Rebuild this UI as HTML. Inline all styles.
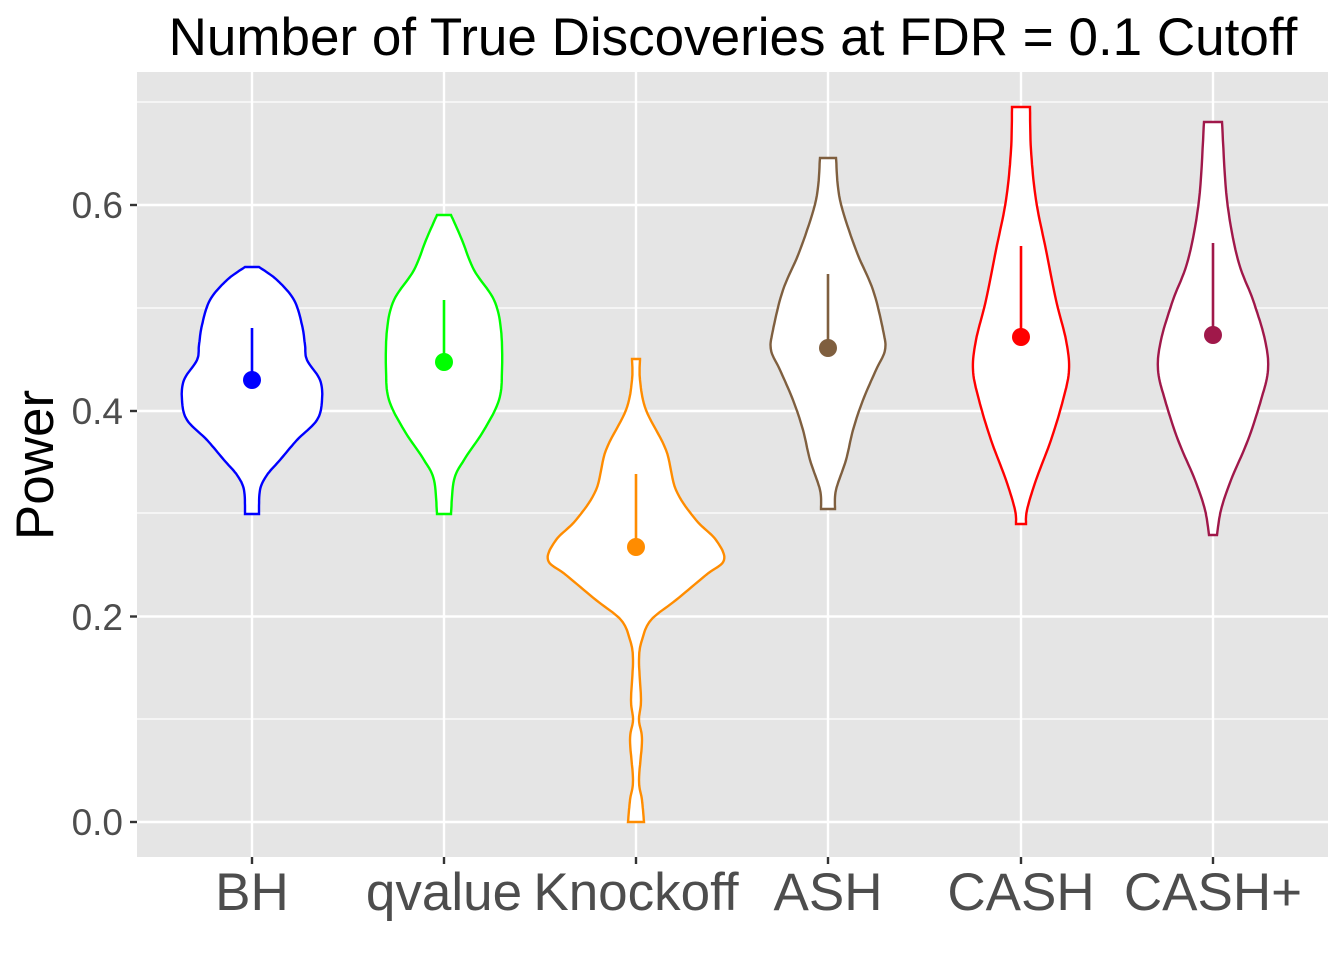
<!DOCTYPE html>
<html><head><meta charset="utf-8"><style>
html,body{margin:0;padding:0;background:#fff;}
svg{display:block;font-family:"Liberation Sans",Arial,sans-serif;}
</style></head><body>
<svg id="s" width="1344" height="960" viewBox="0 0 1344 960" xmlns="http://www.w3.org/2000/svg">
<rect x="137" y="72" width="1191" height="785" fill="#e5e5e5"/>
<g stroke="#fff" stroke-width="1.2">
<line x1="137" x2="1328" y1="719" y2="719"/><line x1="137" x2="1328" y1="513" y2="513"/>
<line x1="137" x2="1328" y1="308" y2="308"/><line x1="137" x2="1328" y1="102" y2="102"/>
</g>
<g stroke="#fff" stroke-width="2.4">
<line x1="137" x2="1328" y1="822" y2="822"/><line x1="137" x2="1328" y1="616.5" y2="616.5"/>
<line x1="137" x2="1328" y1="411" y2="411"/><line x1="137" x2="1328" y1="205" y2="205"/>
<line x1="252" x2="252" y1="72" y2="857"/><line x1="444" x2="444" y1="72" y2="857"/>
<line x1="636" x2="636" y1="72" y2="857"/><line x1="828" x2="828" y1="72" y2="857"/>
<line x1="1021" x2="1021" y1="72" y2="857"/><line x1="1213" x2="1213" y1="72" y2="857"/>
</g>
<g id="v"></g>
<g stroke="#333" stroke-width="2.4">
<line x1="130" x2="137" y1="822" y2="822"/><line x1="130" x2="137" y1="616.5" y2="616.5"/>
<line x1="130" x2="137" y1="411" y2="411"/><line x1="130" x2="137" y1="205" y2="205"/>
<line x1="252" x2="252" y1="857" y2="864"/><line x1="444" x2="444" y1="857" y2="864"/>
<line x1="636" x2="636" y1="857" y2="864"/><line x1="828" x2="828" y1="857" y2="864"/>
<line x1="1021" x2="1021" y1="857" y2="864"/><line x1="1213" x2="1213" y1="857" y2="864"/>
</g>
<g fill="#4d4d4d" font-size="37" text-anchor="end">
<text x="123" y="835">0.0</text><text x="123" y="630">0.2</text>
<text x="123" y="424">0.4</text><text x="123" y="218">0.6</text>
</g>
<g fill="#4d4d4d" font-size="53" text-anchor="middle">
<text x="252" y="910">BH</text><text x="444" y="910">qvalue</text><text x="636" y="910">Knockoff</text>
<text x="828" y="910">ASH</text><text x="1021" y="910">CASH</text><text x="1213" y="910">CASH+</text>
</g>
<text x="733" y="55" font-size="53" text-anchor="middle" fill="#000">Number of True Discoveries at FDR = 0.1 Cutoff</text>
<text transform="translate(53,465) rotate(-90)" font-size="53" text-anchor="middle" fill="#000">Power</text>
</svg>
<script>
var V=[
[252,"#0000ff",[[267,7],[280,25],[300,42],[325,50],[345,53],[360,55],[380,68],[400,70],[420,65],[440,45],[460,28],[475,15],[490,8],[514,7]],380,328],
[444,"#00ff00",[[215,7],[240,18],[270,30],[300,50],[330,57],[370,58],[400,55],[430,40],[460,20],[480,10],[514,7]],362,300],
[636,"#ff8c00",[[359,4],[380,4],[410,10],[450,30],[490,40],[520,60],[540,80],[560,88],[575,70],[600,40],[620,15],[640,6],[660,3],[700,5],[720,3],[740,6],[780,3],[800,6],[822,8]],547,474],
[828,"#7f5f3f",[[158,8],[200,12],[250,28],[290,45],[330,55],[350,57],[370,48],[400,35],[430,25],[460,18],[490,8],[509,7]],348,274],
[1021,"#ff0000",[[107,9],[150,10],[200,15],[250,25],[300,35],[340,45],[370,48],[400,42],[440,30],[480,15],[510,6],[524,5]],337,246],
[1213,"#a0184a",[[122,9],[200,14],[260,25],[300,40],[340,52],[370,55],[400,48],[440,35],[480,18],[510,8],[535,4]],335,243]];
function smooth(p){var o=[];for(var i=0;i<p.length-1;i++){var p0=p[Math.max(0,i-1)],p1=p[i],p2=p[i+1],p3=p[Math.min(p.length-1,i+2)];
for(var t=0;t<1;t+=0.1){var t2=t*t,t3=t2*t;var f=function(a,b,c,d){return 0.5*(2*b+(-a+c)*t+(2*a-5*b+4*c-d)*t2+(-a+3*b-3*c+d)*t3);};
o.push([f(p0[0],p1[0],p2[0],p3[0]),f(p0[1],p1[1],p2[1],p3[1])]);}}o.push(p[p.length-1]);return o;}
var g=document.getElementById("v"),h="";
V.forEach(function(v){var c=v[0],s=smooth(v[2]);var pts=[];
s.forEach(function(q){pts.push((c+q[1]).toFixed(1)+","+q[0].toFixed(1));});
for(var i=s.length-1;i>=0;i--)pts.push((c-s[i][1]).toFixed(1)+","+s[i][0].toFixed(1));
h+='<polygon points="'+pts.join(" ")+'" fill="#fff" stroke="'+v[1]+'" stroke-width="2.4"/>';
h+='<line x1="'+c+'" x2="'+c+'" y1="'+v[3]+'" y2="'+v[4]+'" stroke="'+v[1]+'" stroke-width="2.6"/>';
h+='<circle cx="'+c+'" cy="'+v[3]+'" r="9" fill="'+v[1]+'"/>';});
g.innerHTML=h;
</script>
</body></html>
